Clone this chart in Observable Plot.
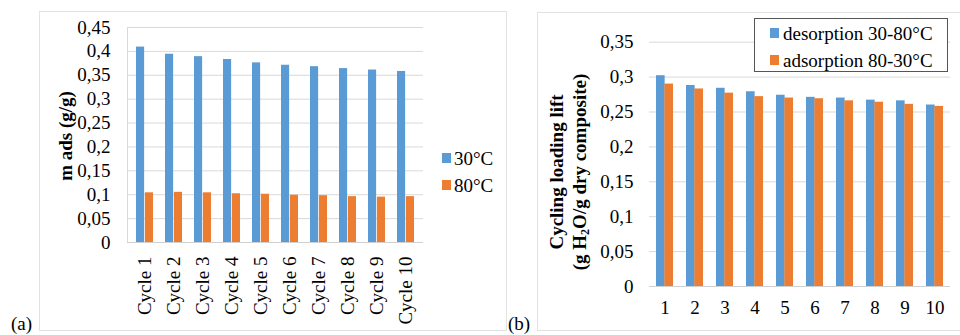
<!DOCTYPE html>
<html><head><meta charset="utf-8">
<script src="https://cdn.jsdelivr.net/npm/d3@7"></script>
<script src="https://cdn.jsdelivr.net/npm/@observablehq/plot@0.6"></script>
<style>
body{margin:0;background:#fff;font-family:"Liberation Serif","Times New Roman",serif;}
#root{position:relative;width:960px;height:335px;overflow:hidden;background:#fff;}
.frame{position:absolute;border:1.5px solid #e2e2e2;box-sizing:border-box;}
.abs{position:absolute;white-space:nowrap;font-size:19px;color:#000;line-height:1;}
.sw{position:absolute;width:9px;height:10px;}
.rot{position:absolute;white-space:nowrap;font-size:19px;font-weight:bold;line-height:1;transform:translate(-50%,-50%) rotate(-90deg);}
svg{position:absolute;top:0;}
#legB{position:absolute;left:754px;top:18px;width:194px;height:54px;border:1.5px solid #555;background:#fff;box-sizing:border-box;z-index:3;}
</style>
</head><body>
<div id="root">
  <div class="frame" style="left:39px;top:11px;width:468px;height:320px;"></div>
  <div class="frame" style="left:537px;top:12px;width:440px;height:319px;"></div>
</div>
<script>
// ---- Data (panel a) ----
const cyclesA = ["Cycle 1","Cycle 2","Cycle 3","Cycle 4","Cycle 5","Cycle 6","Cycle 7","Cycle 8","Cycle 9","Cycle 10"];
const seriesA = ["30°C","80°C"];
const mads30 = [0.409,0.394,0.389,0.383,0.376,0.371,0.368,0.364,0.361,0.358];
const mads80 = [0.104,0.105,0.104,0.102,0.101,0.099,0.098,0.096,0.095,0.096];
const yTicksA = [0,0.05,0.1,0.15,0.2,0.25,0.3,0.35,0.4,0.45];
const yTitleA = "m ads (g/g)";
// ---- Data (panel b) ----
const cyclesB = ["1","2","3","4","5","6","7","8","9","10"];
const seriesB = ["desorption 30-80°C","adsorption 80-30°C"];
const desorption = [0.302,0.288,0.284,0.279,0.274,0.271,0.270,0.267,0.266,0.260];
const adsorption = [0.290,0.283,0.277,0.272,0.270,0.269,0.266,0.264,0.261,0.258];
const yTicksB = [0,0.05,0.1,0.15,0.2,0.25,0.3,0.35];
const colors = ["#5B9BD5","#ED7D31"];

const fmt = d => String(d).replace(".", ",");
const root = document.getElementById("root");
const font = '"Liberation Serif","Times New Roman",serif';

function groupedPlot({cats, series, v1, v2, ticks, ymax, width, left, mL, mR, mT, mB, pi, po, rotate, xPad, yPad, leftLine}) {
  const rows = cats.flatMap((c, i) => [
    {cat: c, s: series[0], v: v1[i], k: 0},
    {cat: c, s: series[1], v: v2[i], k: 1}
  ]);
  const range = width - mL - mR;
  const step = range / (cats.length - pi + 2 * po);
  const half = step * (1 - pi) / 2;
  const marks = [
    Plot.ruleY(ticks.slice(1), {stroke: "#d9d9d9", strokeWidth: 1}),
    Plot.barY(rows.filter(d => d.k === 0), {x: "cat", y: "v", fill: colors[0], insetRight: half, insetLeft: 0}),
    Plot.barY(rows.filter(d => d.k === 1), {x: "cat", y: "v", fill: colors[1], insetLeft: half, insetRight: 0}),
    Plot.ruleY([0], {stroke: "#d0d0d0", strokeWidth: 1.2}),
    Plot.axisY({ticks, tickFormat: fmt, tickSize: 0, tickPadding: yPad, fontSize: 19, label: null}),
    Plot.axisX({tickSize: 0, tickPadding: xPad, tickRotate: rotate, fontSize: 19, label: null})
  ];
  if (leftLine) marks.unshift(Plot.frame({anchor: "left", stroke: "#d9d9d9"}));
  const p = Plot.plot({
    width, height: 335, marginLeft: mL, marginRight: mR, marginTop: mT, marginBottom: mB,
    style: {fontFamily: font, fontSize: "19px", background: "transparent", color: "#000", overflow: "visible"},
    x: {domain: cats, paddingInner: pi, paddingOuter: po, axis: null},
    y: {domain: [0, ymax], axis: null},
    marks
  });
  p.style.left = left + "px";
  root.appendChild(p);
}

groupedPlot({cats: cyclesA, series: seriesA, v1: mads30, v2: mads80, ticks: yTicksA, ymax: 0.45,
  width: 440, left: 0, mL: 127, mR: 17, mT: 27, mB: 93, pi: 0.4, po: 0.2, rotate: -90, xPad: 14, yPad: 17, leftLine: true});
groupedPlot({cats: cyclesB, series: seriesB, v1: desorption, v2: adsorption, ticks: yTicksB, ymax: 0.35,
  width: 480, left: 480, mL: 169, mR: 10, mT: 41.7, mB: 49, pi: 0.445, po: 0.22, rotate: 0, xPad: 14, yPad: 16, leftLine: false});

function add(html) { root.insertAdjacentHTML("beforeend", html); }
// Y titles
add(`<div class="rot" style="left:65px;top:136px;">${yTitleA}</div>`);
add(`<div class="rot" style="left:556px;top:172px;">Cycling loading lift</div>`);
add(`<div class="rot" style="left:580px;top:172px;">(g H<sub style="font-size:12px;vertical-align:-3px;">2</sub>O/g dry composite)</div>`);
// Legend a
seriesA.forEach((s, i) => {
  add(`<div class="sw" style="left:442px;top:${153 + i * 27}px;background:${colors[i]}"></div>`);
  add(`<div class="abs" style="left:454px;top:${149 + i * 27}px;">${s}</div>`);
});
// Legend b
add(`<div id="legB"></div>`);
seriesB.forEach((s, i) => {
  add(`<div class="sw" style="left:770px;top:${28 + i * 27}px;background:${colors[i]};z-index:4"></div>`);
  add(`<div class="abs" style="left:783px;top:${24 + i * 27}px;z-index:4">${s}</div>`);
});
// panel labels
add(`<div class="abs" style="left:11px;top:314px;">(a)</div>`);
add(`<div class="abs" style="left:508px;top:314px;">(b)</div>`);
</script>
</body></html>
